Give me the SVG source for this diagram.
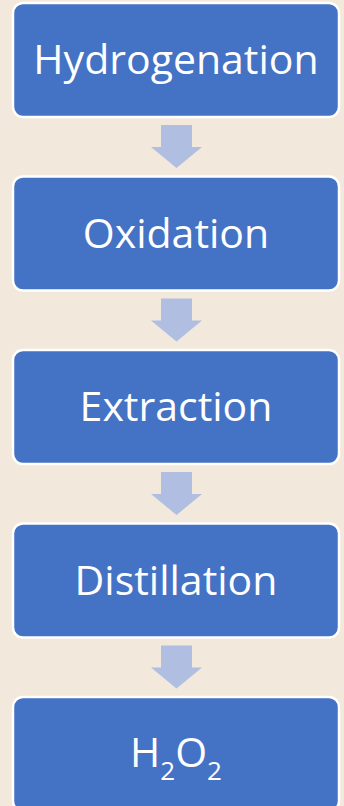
<svg xmlns="http://www.w3.org/2000/svg" width="344" height="806" viewBox="0 0 344 806">
<style>
.box{fill:#4472C4;stroke:#FFFFFF;stroke-width:2.5}
.lbl{fill:#FFFFFF;font-family:"Open Sans","Noto Sans",sans-serif;font-size:41px;text-anchor:middle}
.arr{fill:#B0BFE1}
</style>
<rect x="0" y="0" width="344" height="806" fill="#F2E8DC"/>
<g id="connectors">
<path class="arr" d="M161,125 H192 V147 H202 L176.5,168 L151,147 H161 Z"/>
<path class="arr" d="M161,298.5 H192 V320.5 H202 L176.5,341.5 L151,320.5 H161 Z"/>
<path class="arr" d="M161,472 H192 V494 H202 L176.5,515 L151,494 H161 Z"/>
<path class="arr" d="M161,645.5 H192 V667.5 H202 L176.5,688.5 L151,667.5 H161 Z"/>
</g>
<g id="n1"><rect class="box" x="13" y="3" width="326" height="114" rx="10"/><text class="lbl" x="176" y="74">Hydrogenation</text></g>
<g id="n2"><rect class="box" x="13" y="176.5" width="326" height="114" rx="10"/><text class="lbl" x="176" y="247.5">Oxidation</text></g>
<g id="n3"><rect class="box" x="13" y="350" width="326" height="114" rx="10"/><text class="lbl" x="176" y="421">Extraction</text></g>
<g id="n4"><rect class="box" x="13" y="523.5" width="326" height="114" rx="10"/><text class="lbl" x="176" y="594.5">Distillation</text></g>
<g id="n5"><rect class="box" x="13" y="697" width="326" height="114" rx="10"/><text class="lbl" x="176" y="767">H<tspan font-size="26" dy="13">2</tspan><tspan dy="-13">O</tspan><tspan font-size="26" dy="13">2</tspan></text></g>
</svg>
